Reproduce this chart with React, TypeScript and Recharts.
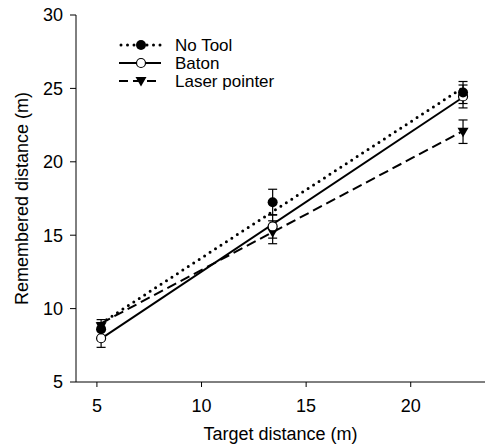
import React from "react";
import {
  ComposedChart,
  Scatter,
  XAxis,
  YAxis,
  ErrorBar,
  Legend,
} from "recharts";

// target distances (m)
const targetX = [5.2, 13.4, 22.5];

// mean remembered distance and error per condition
const noTool = [8.6, 17.25, 24.72];
const noToolErr = [0.65, 0.88, 0.75];
const baton = [7.98, 15.6, 24.45];
const batonErr = [0.62, 0.8, 0.78];
const laser = [8.8, 15.2, 22.05];
const laserErr = [0.25, 0.78, 0.8];

// regression line end points
const fitX = [5.2, 22.5];
const noToolFit = [9.0, 25.05];
const batonFit = [7.95, 24.4];
const laserFit = [9.0, 22.1];

const xTicks = [5, 10, 15, 20];
const yTicks = [5, 10, 15, 20, 25, 30];

const FONT = "'Liberation Sans', Arial, sans-serif";

const pts = (ys: number[], errs: number[]) =>
  targetX.map((x, i) => ({ x, y: ys[i], err: errs[i] }));
const fit = (ys: number[]) => fitX.map((x, i) => ({ x, y: ys[i] }));

const Nothing = () => <g />;

function FilledDot(p: any) {
  return <circle cx={p.cx} cy={p.cy} r={5} fill="#000" />;
}
function OpenDot(p: any) {
  return <circle cx={p.cx} cy={p.cy} r={4.5} fill="#fff" stroke="#000" strokeWidth={1.2} />;
}
function DownTri(p: any) {
  const { cx, cy } = p;
  return <path d={`M${cx - 5.5},${cy - 4} L${cx + 5.5},${cy - 4} L${cx},${cy + 5.5} Z`} fill="#000" />;
}

const legendRows = [
  { name: "No Tool", dash: "0 6.5", width: 3, cap: "round", marker: "filled" },
  { name: "Baton", dash: undefined, width: 2, cap: "butt", marker: "open" },
  { name: "Laser pointer", dash: "9 5", width: 2, cap: "butt", marker: "tri" },
];

function LegendContent() {
  return (
    <div style={{ fontFamily: FONT, fontSize: 17, color: "#000" }}>
      {legendRows.map((r) => (
        <div key={r.name} style={{ display: "flex", alignItems: "center", height: 18 }}>
          <svg width={57} height={18}>
            <line
              x1={r.cap === "round" ? 3 : 1}
              y1={9}
              x2={43}
              y2={9}
              stroke="#000"
              strokeWidth={r.width}
              strokeDasharray={r.dash}
              strokeLinecap={r.cap as any}
            />
            {r.marker === "filled" && <FilledDot cx={23} cy={9} />}
            {r.marker === "open" && <OpenDot cx={23} cy={9} />}
            {r.marker === "tri" && <DownTri cx={23} cy={9} />}
          </svg>
          <span style={{ lineHeight: "17px" }}>{r.name}</span>
        </div>
      ))}
    </div>
  );
}

export default function App() {
  return (
    <div style={{ position: "absolute", left: 0, top: 0, background: "#fff" }}>
      <ComposedChart
        width={487}
        height={444}
        margin={{ top: 15, right: 2, bottom: 0, left: 0 }}
        style={{ fontFamily: FONT }}
      >
        <XAxis
          type="number"
          dataKey="x"
          domain={[4, 23.55]}
          ticks={xTicks}
          height={62}
          tickSize={5}
          tickMargin={12}
          fontSize={18}
          tick={{ fontSize: 18, fill: "#000" }}
          stroke="#000"
          allowDataOverflow
          label={{ value: "Target distance (m)", position: "insideBottom", offset: 4, fontSize: 18, fill: "#000" }}
        />
        <YAxis
          type="number"
          dataKey="y"
          domain={[5, 30]}
          ticks={yTicks}
          width={76}
          tickSize={6}
          tickMargin={7}
          fontSize={18}
          tick={{ fontSize: 18, fill: "#000" }}
          stroke="#000"
          allowDataOverflow
          label={{
            value: "Remembered distance (m)",
            angle: -90,
            position: "insideLeft",
            offset: 22,
            style: { textAnchor: "middle" },
            fontSize: 18,
            fill: "#000",
          }}
        />
        <Legend
          content={<LegendContent />}
          layout="horizontal"
          verticalAlign="middle"
          align="center"
          wrapperStyle={{ position: "absolute", left: 118, top: 36, width: 220 }}
        />
        <Scatter
          name="noToolFit"
          data={fit(noToolFit)}
          shape={<Nothing />}
          line={{ stroke: "#000", strokeWidth: 3, strokeDasharray: "0 6.5", strokeLinecap: "round" }}
          isAnimationActive={false}
          legendType="none"
        />
        <Scatter
          name="batonFit"
          data={fit(batonFit)}
          shape={<Nothing />}
          line={{ stroke: "#000", strokeWidth: 2 }}
          isAnimationActive={false}
          legendType="none"
        />
        <Scatter
          name="laserFit"
          data={fit(laserFit)}
          shape={<Nothing />}
          line={{ stroke: "#000", strokeWidth: 2, strokeDasharray: "10 5" }}
          isAnimationActive={false}
          legendType="none"
        />
        <Scatter name="Laser pointer" data={pts(laser, laserErr)} shape={<DownTri />} isAnimationActive={false}>
          <ErrorBar dataKey="err" direction="y" width={4.5} stroke="#000" strokeWidth={1.2} />
        </Scatter>
        <Scatter name="Baton" data={pts(baton, batonErr)} shape={<OpenDot />} isAnimationActive={false}>
          <ErrorBar dataKey="err" direction="y" width={4.5} stroke="#000" strokeWidth={1.2} />
        </Scatter>
        <Scatter name="No Tool" data={pts(noTool, noToolErr)} shape={<FilledDot />} isAnimationActive={false}>
          <ErrorBar dataKey="err" direction="y" width={4.5} stroke="#000" strokeWidth={1.2} />
        </Scatter>
      </ComposedChart>
    </div>
  );
}
